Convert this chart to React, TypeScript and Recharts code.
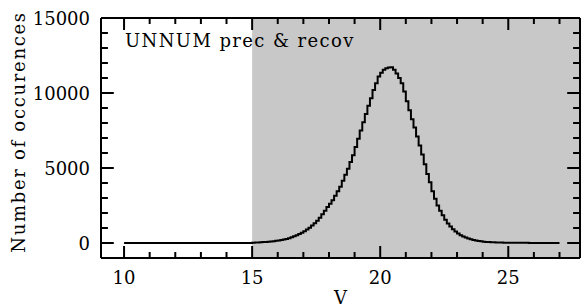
import { LineChart, Line, XAxis, YAxis, ReferenceArea, ReferenceLine, Label } from "recharts";

// histogram of V magnitudes, 0.1 mag bins starting at 15.0
const BIN_START = 15;
const BIN_WIDTH = 0.1;
const ZERO_START = 10;
const counts = [
  20, 30, 40, 50, 60, 75, 90, 105, 125, 150,
  175, 200, 230, 265, 320, 380, 450, 520, 600, 690,
  790, 900, 1020, 1160, 1320, 1490, 1690, 1910, 2150, 2400,
  2620, 2850, 3150, 3450, 3750, 4150, 4550, 4950, 5400, 5850,
  6400, 6950, 7500, 8050, 8600, 9150, 9650, 10200, 10650, 11100,
  11350, 11550, 11650, 11700, 11720, 11550, 11300, 11000, 10650, 10100,
  9450, 8850, 8250, 7700, 7100, 6500, 5900, 5250, 4600, 4050,
  3450, 2950, 2500, 2150, 1850, 1550, 1300, 1100, 920, 770,
  640, 520, 430, 360, 300, 250, 200, 165, 135, 110,
  90, 75, 62, 52, 44, 38, 33, 29, 25, 22,
  19, 17, 15, 13, 12, 11, 10, 9, 8, 7,
  7, 6, 6, 5, 5, 4, 4, 4, 3, 3,
];

const xTicks = [10, 11, 12, 13, 14, 15, 16, 17, 18, 19, 20, 21, 22, 23, 24, 25, 26, 27];
const yTicks = [
  0, 1000, 2000, 3000, 4000, 5000, 6000, 7000, 8000, 9000, 10000, 11000, 12000, 13000,
  14000, 15000,
];
const X_DOMAIN: [number, number] = [9.1, 27.8];
const Y_DOMAIN: [number, number] = [-1000, 15000];
const SHADE_FROM = 15;
const TITLE = "UNNUM prec & recov";

// inward tick lengths in data units (major / minor)
const X_TICK_LEN = [800, 400];
const Y_TICK_LEN = [0.5, 0.27];

const data = [
  { v: ZERO_START, n: 0 },
  ...counts.map((n, i) => ({ v: +(BIN_START + i * BIN_WIDTH).toFixed(1), n })),
  { v: +(BIN_START + counts.length * BIN_WIDTH).toFixed(1), n: counts[counts.length - 1] },
];

const FONT = '"DejaVu Serif", serif';
const INK = "#000";

function XTickLabel(props: any) {
  const { x, y, payload } = props;
  if (payload.value % 5 !== 0) return <g />;
  return (
    <text x={x} y={y + 26} textAnchor="middle" fontSize={18} fontFamily={FONT} fill={INK}>
      {payload.value}
    </text>
  );
}

function YTickLabel(props: any) {
  const { x, y, payload } = props;
  if (payload.value % 5000 !== 0) return <g />;
  return (
    <text x={x - 11} y={y + 7} textAnchor="end" fontSize={18} fontFamily={FONT} fill={INK}>
      {payload.value}
    </text>
  );
}

export default function App() {
  const tickSegments: { key: string; seg: { x: number; y: number }[] }[] = [];
  xTicks.forEach((t) => {
    const len = t % 5 === 0 ? X_TICK_LEN[0] : X_TICK_LEN[1];
    tickSegments.push({ key: `b${t}`, seg: [{ x: t, y: Y_DOMAIN[0] }, { x: t, y: Y_DOMAIN[0] + len }] });
    tickSegments.push({ key: `t${t}`, seg: [{ x: t, y: Y_DOMAIN[1] }, { x: t, y: Y_DOMAIN[1] - len }] });
  });
  yTicks.forEach((t) => {
    const len = t % 5000 === 0 ? Y_TICK_LEN[0] : Y_TICK_LEN[1];
    tickSegments.push({ key: `l${t}`, seg: [{ x: X_DOMAIN[0], y: t }, { x: X_DOMAIN[0] + len, y: t }] });
    tickSegments.push({ key: `r${t}`, seg: [{ x: X_DOMAIN[1], y: t }, { x: X_DOMAIN[1] - len, y: t }] });
  });

  return (
    <div style={{ position: "absolute", left: 0, top: 0 }}>
      <LineChart width={581} height={308} data={data} margin={{ top: 17, right: 0, left: 0, bottom: 0 }}>
        <ReferenceArea x1={SHADE_FROM} x2={X_DOMAIN[1]} fill="#c8c8c8" fillOpacity={1} />
        {tickSegments.map((s) => (
          <ReferenceLine
            key={s.key}
            segment={s.seg}
            stroke={INK}
            strokeWidth={2}
            ifOverflow="visible"
          />
        ))}
        <XAxis
          dataKey="v"
          type="number"
          domain={X_DOMAIN}
          allowDataOverflow
          ticks={xTicks}
          interval={0}
          height={50}
          tickSize={0}
          tickMargin={0}
          tickLine={false}
          axisLine={{ stroke: INK, strokeWidth: 2 }}
          tick={(p: any) => <XTickLabel {...p} />}
        >
          <Label
            content={({ viewBox }: any) => (
              <text
                x={viewBox.x + viewBox.width / 2}
                y={viewBox.y + 46}
                textAnchor="middle"
                fontSize={18}
                fontFamily={FONT}
                fill={INK}
              >
                V
              </text>
            )}
          />
        </XAxis>
        <XAxis
          xAxisId="top"
          orientation="top"
          dataKey="v"
          type="number"
          domain={X_DOMAIN}
          allowDataOverflow
          ticks={xTicks}
          height={1}
          tick={false}
          tickLine={false}
          axisLine={{ stroke: INK, strokeWidth: 2 }}
        >
          <Label
            content={({ viewBox }: any) => (
              <text
                x={viewBox.x + 24}
                y={viewBox.y + 30}
                fontSize={18}
                letterSpacing={1.4}
                fontFamily={FONT}
                fill={INK}
              >
                {TITLE}
              </text>
            )}
          />
        </XAxis>
        <YAxis
          type="number"
          domain={Y_DOMAIN}
          allowDataOverflow
          ticks={yTicks}
          interval={0}
          width={101}
          tickSize={0}
          tickMargin={0}
          tickLine={false}
          axisLine={{ stroke: INK, strokeWidth: 2 }}
          tick={(p: any) => <YTickLabel {...p} />}
        >
          <Label
            content={({ viewBox }: any) => {
              const cx = viewBox.x + 25;
              const cy = viewBox.y + viewBox.height / 2 - 6;
              return (
                <text
                  x={cx}
                  y={cy}
                  transform={`rotate(-90 ${cx} ${cy})`}
                  textAnchor="middle"
                  fontSize={18}
                  letterSpacing={1.7}
                  fontFamily={FONT}
                  fill={INK}
                >
                  Number of occurences
                </text>
              );
            }}
          />
        </YAxis>
        <YAxis
          yAxisId="right"
          orientation="right"
          type="number"
          domain={Y_DOMAIN}
          allowDataOverflow
          ticks={yTicks}
          width={1}
          tick={false}
          tickLine={false}
          axisLine={{ stroke: INK, strokeWidth: 2 }}
        />
        <Line
          type="stepAfter"
          dataKey="n"
          stroke={INK}
          strokeWidth={2}
          dot={false}
          isAnimationActive={false}
        />
      </LineChart>
    </div>
  );
}
